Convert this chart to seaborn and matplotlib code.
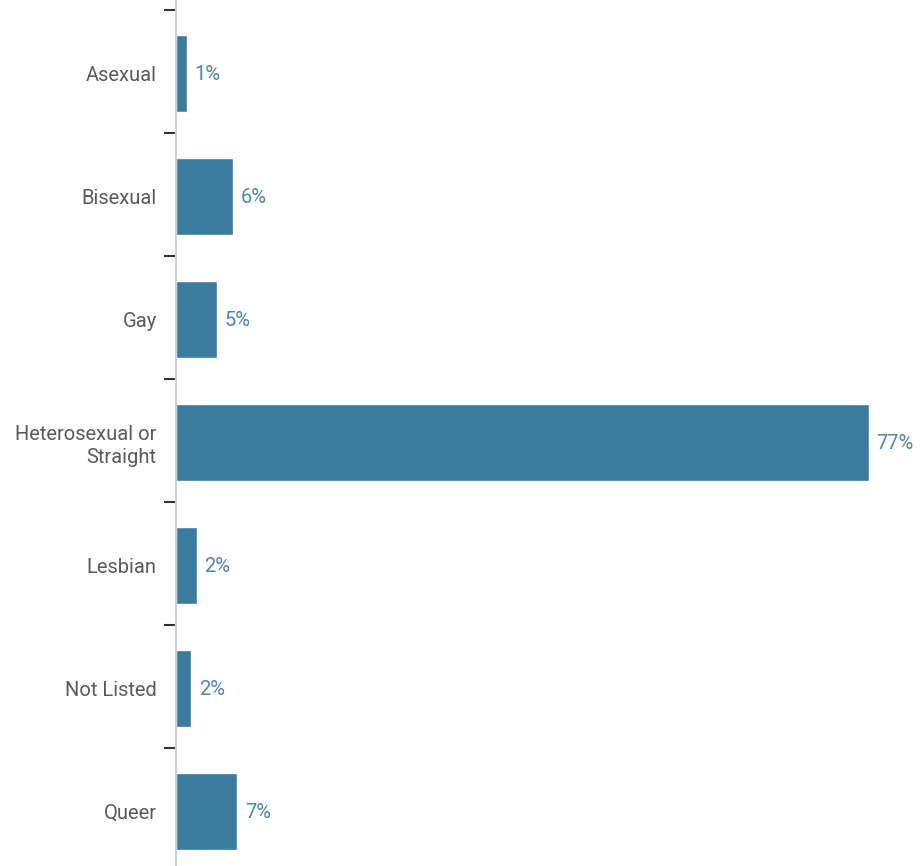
import matplotlib
matplotlib.use("Agg")
import matplotlib.pyplot as plt
import seaborn as sns
import pandas as pd
from matplotlib.ticker import FixedLocator

# Survey responses: sexual orientation (share of respondents, %)
categories = ["Asexual", "Bisexual", "Gay", "Heterosexual or\nStraight",
              "Lesbian", "Not Listed", "Queer"]
shares = [1.2, 6.3, 4.6, 77.0, 2.3, 1.7, 6.8]

df = pd.DataFrame({"orientation": categories, "share": shares})

sns.set_theme(style="white")
plt.rcParams["font.family"] = ["Roboto", "DejaVu Sans"]

BAR = "#3b7c9e"
VALUE = "#4e88aa"
LABEL = "#5a5a5a"

fig = plt.figure(figsize=(9.23, 8.66), dpi=100)
ax = fig.add_axes([176 / 923, 0.0, 1 - 176 / 923, 1.0])

sns.barplot(data=df, x="share", y="orientation", orient="h",
            color=BAR, saturation=1, width=0.62, ax=ax)

for patch, v in zip(ax.patches, shares):
    y = patch.get_y() + patch.get_height() / 2
    ax.annotate(f"{v:.0f}%", xy=(v, y), xytext=(5.5, -1),
                textcoords="offset points", va="center", ha="left",
                fontsize=14.5, color=VALUE)

ax.set_xlim(0, (923 - 176) / 9)
ax.set_ylim(6.443, -0.597)

ax.set_xlabel("")
ax.set_ylabel("")
ax.set_xticks([])

# category labels without marks; marks sit between categories
ax.tick_params(axis="y", which="major", length=0, pad=14,
               labelsize=14.5, labelcolor=LABEL)
for t in ax.get_yticklabels():
    t.set_linespacing(1.25)
ax.yaxis.set_minor_locator(FixedLocator([i - 0.516 for i in range(len(categories) + 1)]))
ax.tick_params(axis="y", which="minor", left=True, length=8.6, width=1.5,
               color="#333333")

for side in ["top", "right", "bottom"]:
    ax.spines[side].set_visible(False)
ax.spines["left"].set_color("#d0d0d0")
ax.spines["left"].set_linewidth(1.5)

fig.savefig("out.png", dpi=100)
